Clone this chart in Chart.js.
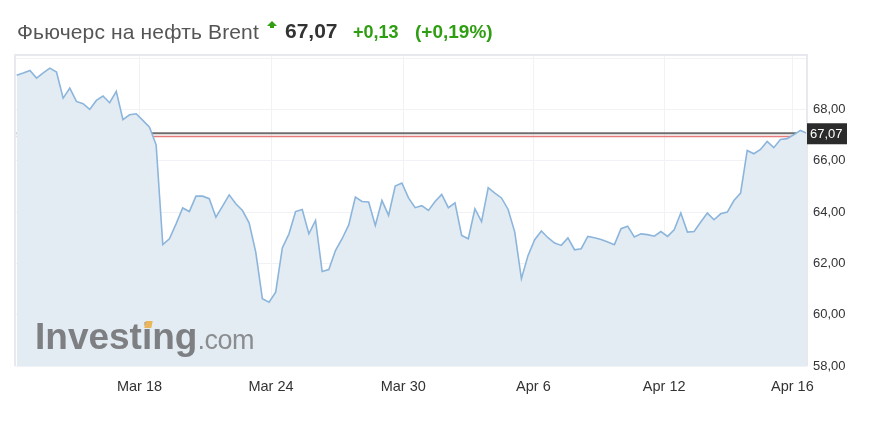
<!DOCTYPE html>
<html>
<head>
<meta charset="utf-8">
<script src="https://cdn.jsdelivr.net/npm/chart.js@4.4.1/dist/chart.umd.min.js"></script>
<style>
  body { margin: 0; background: #fff; font-family: Arial, "Liberation Sans", sans-serif; }
  #wrap { position: relative; width: 869px; height: 426px; overflow: hidden; }
  #chart { position: absolute; left: 0; top: 0; }
  .t { position: absolute; white-space: nowrap; }
  #name { left: 17px; top: 21px; font-size: 21px; line-height: 21px; color: #555; letter-spacing: 0.15px; }
  #arrow { left: 267px; top: 21px; width: 0; height: 0; border-left: 5px solid transparent; border-right: 5px solid transparent; border-bottom: 5px solid #2f9e12; }
  #stem { left: 270px; top: 25px; width: 4px; height: 3px; background: #2f9e12; }
  #price { left: 285px; top: 20px; font-size: 21px; line-height: 21px; font-weight: bold; color: #333; }
  #chg { left: 353px; top: 23px; font-size: 18px; line-height: 18px; font-weight: bold; color: #2f9e12; }
  #pct { left: 415px; top: 22px; font-size: 19px; line-height: 19px; font-weight: bold; color: #2f9e12; }
  #logo { left: 35px; top: 318px; font-size: 37px; line-height: 37px; font-weight: bold; color: #7d7f83; letter-spacing: 0px; }
  #logo span { font-size: 27px; font-weight: normal; color: #8b8d90; letter-spacing: -0.5px; }
  #dot { left: 145px; top: 321px; width: 7px; height: 7px; background: #ebb65a; transform: skewX(-12deg); }
</style>
</head>
<body>
<div id="wrap">
  <canvas id="chart" width="869" height="426"></canvas>
  <div class="t" id="name">Фьючерс на нефть Brent</div>
  <div class="t" id="arrow"></div>
  <div class="t" id="stem"></div>
  <div class="t" id="price">67,07</div>
  <div class="t" id="chg">+0,13</div>
  <div class="t" id="pct">(+0,19%)</div>
  <div class="t" id="logo">Investing<span>.com</span></div>
  <div class="t" id="dot"></div>
</div>
<script>
const prices = [
  69.33, 69.42, 69.52, 69.22, 69.42, 69.61, 69.46, 68.44, 68.83, 68.31,
  68.22, 68.00, 68.35, 68.52, 68.26, 68.70, 67.60, 67.79, 67.83, 67.57,
  67.31, 66.62, 62.73, 62.96, 63.54, 64.16, 64.02, 64.62, 64.62, 64.52,
  63.80, 64.23, 64.67, 64.32, 64.06, 63.58, 62.44, 60.62, 60.49, 60.88,
  62.60, 63.15, 64.02, 64.10, 63.15, 63.67, 61.68, 61.76, 62.50, 62.96,
  63.50, 64.58, 64.41, 64.39, 63.48, 64.45, 63.87, 65.01, 65.13, 64.55,
  64.17, 64.25, 64.06, 64.41, 64.69, 64.17, 64.36, 63.09, 62.96, 64.13,
  63.63, 64.95, 64.74, 64.55, 64.10, 63.22, 61.40, 62.31, 62.92, 63.26,
  63.00, 62.79, 62.70, 62.99, 62.53, 62.57, 63.05, 63.00, 62.93, 62.83,
  62.73, 63.35, 63.45, 63.03, 63.15, 63.12, 63.06, 63.24, 63.05, 63.31,
  63.96, 63.22, 63.24, 63.61, 63.96, 63.70, 63.93, 64.00, 64.45, 64.74,
  66.40, 66.27, 66.44, 66.75, 66.51, 66.83, 66.86, 67.01, 67.18, 67.07
];
const lastPrice = 67.07;
const prevClose = 66.94;
const tickLabels = ["Mar 18", "Mar 24", "Mar 30", "Apr 6", "Apr 12", "Apr 16"];
const tickPos = [18.5, 38.3, 58.2, 77.8, 97.5, 116.8];
const yTicks = [58, 60, 62, 64, 66, 68, 70];

const fmt = v => v.toFixed(2).replace(".", ",");

const series = prices.map((v, i) => ({ x: i, y: v }));
const flat = v => prices.map((p, i) => ({ x: i, y: v }));

/* border + price tag */
const extras = {
  id: "extras",
  afterDatasetsDraw(chart) {
    const { ctx, chartArea, scales } = chart;
    ctx.save();
    ctx.strokeStyle = "#e7e9ee";
    ctx.lineWidth = 2;
    ctx.beginPath();
    ctx.moveTo(chartArea.left, chartArea.bottom);
    ctx.lineTo(chartArea.left, chartArea.top);
    ctx.lineTo(chartArea.right, chartArea.top);
    ctx.lineTo(chartArea.right, chartArea.bottom);
    ctx.stroke();

    const y = scales.y.getPixelForValue(lastPrice);
    ctx.fillStyle = "#2b2b2b";
    ctx.fillRect(chartArea.right, y - 10, 40, 21);
    ctx.fillStyle = "#fff";
    ctx.font = "13px Arial";
    ctx.textBaseline = "middle";
    ctx.fillText(fmt(lastPrice), chartArea.right + 3, y + 1);
    ctx.restore();
  }
};

new Chart(document.getElementById("chart"), {
  type: "line",
  data: {
    datasets: [
      {
        data: series,
        borderColor: "#8cb5dc",
        borderWidth: 1.6,
        backgroundColor: "#e3ecf3",
        fill: "start",
        pointRadius: 0,
        tension: 0,
        order: 0
      },
      {
        data: flat(lastPrice),
        borderColor: "#6e6e6e",
        borderWidth: 2,
        pointRadius: 0,
        fill: false,
        order: 1
      },
      {
        data: flat(prevClose),
        borderColor: "#e57b7b",
        borderWidth: 1.5,
        pointRadius: 0,
        fill: false,
        order: 2
      }
    ]
  },
  options: {
    responsive: false,
    animation: false,
    devicePixelRatio: 1,
    layout: { padding: { left: 15, top: 55, right: 0, bottom: 0 } },
    plugins: {
      legend: { display: false },
      tooltip: { enabled: false }
    },
    scales: {
      x: {
        type: "linear",
        min: -0.25,
        max: 119,
        afterBuildTicks: axis => { axis.ticks = tickPos.map(v => ({ value: v })); },
        afterFit: axis => { axis.height = 60; },
        grid: { color: "#f1f2f5", drawTicks: false },
        border: { display: false },
        ticks: {
          autoSkip: false,
          maxRotation: 0,
          padding: 12,
          color: "#333",
          font: { family: "Arial", size: 14.5 },
          callback: (v, i) => tickLabels[i]
        }
      },
      y: {
        position: "right",
        min: 58,
        max: 70.12,
        afterBuildTicks: axis => { axis.ticks = yTicks.map(v => ({ value: v })); },
        afterFit: axis => { axis.width = 62; },
        grid: { color: "#f1f2f5", drawTicks: false },
        border: { display: false },
        ticks: {
          padding: 6,
          color: "#333",
          font: { family: "Arial", size: 13 },
          callback: v => (v >= 70 ? "" : fmt(v))
        }
      }
    }
  },
  plugins: [extras]
});
</script>
</body>
</html>
